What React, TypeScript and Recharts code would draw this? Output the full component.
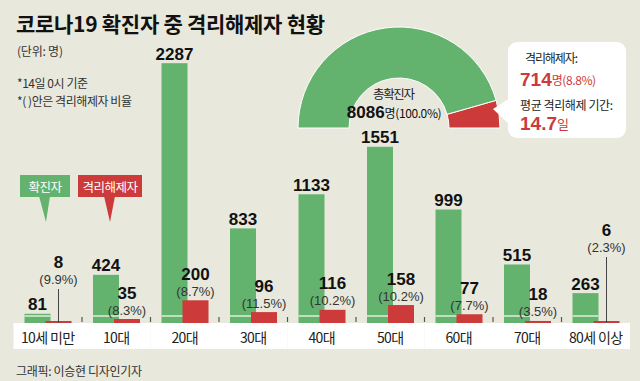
import React from "react";
import { BarChart, Bar, XAxis, YAxis, LabelList, PieChart, Pie, Cell } from "recharts";

const ageGroups = ["10세 미만", "10대", "20대", "30대", "40대", "50대", "60대", "70대", "80세 이상"];
const confirmed = [81, 424, 2287, 833, 1133, 1551, 999, 515, 263];
const released = [8, 35, 200, 96, 116, 158, 77, 18, 6];
const releasedPct = ["9.9", "8.3", "8.7", "11.5", "10.2", "10.2", "7.7", "3.5", "2.3"];
const totalConfirmed = 8086;
const totalReleased = 714;
const totalReleasedPct = "8.8";
const avgReleaseDays = "14.7";

const GREEN = "#63b36f";
const RED = "#cc3a3a";
const BG = "#e8e8dd";
const KR = "'Noto Sans CJK KR', 'Noto Sans', sans-serif";
const NUM = "'Liberation Sans Narrow', 'Liberation Sans', Arial, sans-serif";

// label lift (px) for tiny bars whose labels sit on a leader line
const LEADER_LIFT: Record<string, number> = { "10세 미만": 33, "80세 이상": 65 };

const data = ageGroups.map((g, i) => ({
  group: g,
  confirmed: confirmed[i],
  released: released[i],
  pct: releasedPct[i],
}));

const pieData = [
  { name: "격리해제자", value: totalReleased },
  { name: "확진자", value: totalConfirmed - totalReleased },
];

const GreenShape = (p: any) => {
  const { x, y, width, height } = p;
  const ly = Math.max(y + 1, y + height - 7);
  return (
    <g>
      <rect x={x} y={y} width={width} height={height} fill={GREEN} />
      <line x1={x} x2={x + width} y1={ly} y2={ly} stroke="#dfeed8" strokeWidth={1.5} />
    </g>
  );
};

const GreenLabel = (p: any) => {
  const { x, y, width, value } = p;
  return (
    <text x={x + width / 2} y={y - 9} textAnchor="middle" dominantBaseline="central"
      fontFamily={NUM} fontWeight="bold" fontSize={17} fill="#111">
      {value}
    </text>
  );
};

const RedLabel = (p: any) => {
  const { x, y, width, value, index } = p;
  const g = ageGroups[index];
  const lift = LEADER_LIFT[g] ?? 0;
  const cx = x + width / 2;
  return (
    <g>
      {lift > 0 && (
        <line x1={cx} x2={cx} y1={y - lift + 1} y2={y + 2} stroke="#444" strokeWidth={1} />
      )}
      <text x={cx} y={y - 26 - lift} textAnchor="middle" dominantBaseline="central"
        fontFamily={NUM} fontWeight="bold" fontSize={17} fill="#111">
        {value}
      </text>
      <text x={cx} y={y - 9 - lift} textAnchor="middle" dominantBaseline="central"
        fontFamily={NUM} fontSize={13} fill="#333">
        ({releasedPct[index]}%)
      </text>
    </g>
  );
};

const AxisTick = (p: any) => {
  const { x, y, payload, index } = p;
  const half = 34.25;
  return (
    <g>
      <rect x={x - half} y={y} width={half * 2} height={26} fill="#fff" />
      {index > 0 && (
        <line x1={x - half} x2={x - half} y1={y - 6} y2={y - 1} stroke="#555" strokeWidth={1.2} />
      )}
      <text x={x} y={y + 14} textAnchor="middle" dominantBaseline="central"
        fontFamily={KR} fontSize={14} letterSpacing={-0.6} fill="#222">
        {payload.value}
      </text>
    </g>
  );
};

const T = (props: any) => (
  <text dominantBaseline="central" lengthAdjust="spacing" fontFamily={KR} {...props} />
);

export default function App() {
  return (
    <div style={{ position: "fixed", left: 0, top: 0, width: 640, height: 381, background: BG, overflow: "hidden" }}>
      <div style={{ position: "absolute", left: 0, top: 0 }}>
        <BarChart width={640} height={381} data={data}
          margin={{ top: 39, right: 10, left: 13.5, bottom: 32 }}
          barSize={26} barGap={-5}>
          <XAxis dataKey="group" interval={0} axisLine={false} tickLine={false}
            tickSize={0} tickMargin={0} height={26} tick={<AxisTick />} />
          <YAxis hide domain={[0, 2500]} />
          <Bar dataKey="confirmed" fill={GREEN} shape={<GreenShape />} isAnimationActive={false}>
            <LabelList dataKey="confirmed" content={<GreenLabel />} />
          </Bar>
          <Bar dataKey="released" fill={RED} minPointSize={2} isAnimationActive={false}>
            <LabelList dataKey="released" content={<RedLabel />} />
          </Bar>
        </BarChart>
      </div>
      <div style={{ position: "absolute", left: 0, top: 0 }}>
        <PieChart width={640} height={381}>
          <Pie data={pieData} dataKey="value" cx={394} cy={123} innerRadius={50} outerRadius={101}
            startAngle={0} endAngle={180} stroke="#fff" strokeWidth={1} isAnimationActive={false}>
            <Cell fill={RED} />
            <Cell fill={GREEN} />
          </Pie>
        </PieChart>
      </div>
      <svg width={640} height={381} style={{ position: "absolute", left: 0, top: 0, pointerEvents: "none" }}>
        <T x={16} y={23} fontWeight="bold" fontSize={21} textLength={309} fill="#111">코로나19 확진자 중 격리해제자 현황</T>
        <T x={17} y={50} fontSize={12} textLength={46} fill="#333">(단위: 명)</T>
        <T x={17} y={82} fontSize={12} textLength={71} fill="#333">*14일 0시 기준</T>
        <T x={17} y={100} fontSize={12} textLength={115} fill="#333">*( )안은 격리해제자 비율</T>

        {/* legend */}
        <rect x={20} y={175} width={50} height={22} fill={GREEN} />
        <polygon points="39,196 50,196 46,222" fill={GREEN} />
        <text x={45} y={186} textAnchor="middle" dominantBaseline="central" fontFamily={KR} fontSize={12.5}
          letterSpacing={-0.5} fill="#fff">확진자</text>
        <rect x={78} y={175} width={64} height={22} fill={RED} />
        <polygon points="104,196 115,196 110,222" fill={RED} />
        <text x={110} y={186} textAnchor="middle" dominantBaseline="central" fontFamily={KR} fontSize={12.5}
          letterSpacing={-0.5} fill="#fff">격리해제자</text>

        {/* donut center */}
        <T x={373} y={93} fontSize={12.5} textLength={42} fill="#222">총확진자</T>
        <text x={394} y={112} textAnchor="middle" dominantBaseline="central" fill="#111">
          <tspan fontFamily={NUM} fontWeight="bold" fontSize={17}>{totalConfirmed}</tspan>
          <tspan fontFamily={KR} fontSize={12} letterSpacing={-0.4}>명(100.0%)</tspan>
        </text>

        {/* callout */}
        <polygon points="510,98 493,109 510,125" fill="#fff" />
        <rect x={508} y={42} width={118} height={96} rx={9} fill="#fff" />
        <T x={525} y={57} fontSize={12} textLength={53} fill="#222">격리해제자:</T>
        <text x={520} y={79} dominantBaseline="central" fill={RED}>
          <tspan fontFamily={NUM} fontWeight="bold" fontSize={19}>{totalReleased}</tspan>
          <tspan fontFamily={KR} fontSize={12} letterSpacing={-0.4}>명({totalReleasedPct}%)</tspan>
        </text>
        <T x={520} y={104} fontSize={12} textLength={93} fill="#222">평균 격리해제 기간:</T>
        <text x={520} y={123} dominantBaseline="central" fill={RED}>
          <tspan fontFamily={NUM} fontWeight="bold" fontSize={19}>{avgReleaseDays}</tspan>
          <tspan fontFamily={KR} fontSize={13}>일</tspan>
        </text>

        <T x={16} y={370} fontSize={12} textLength={126} fill="#333">그래픽: 이승현 디자인기자</T>
      </svg>
    </div>
  );
}
